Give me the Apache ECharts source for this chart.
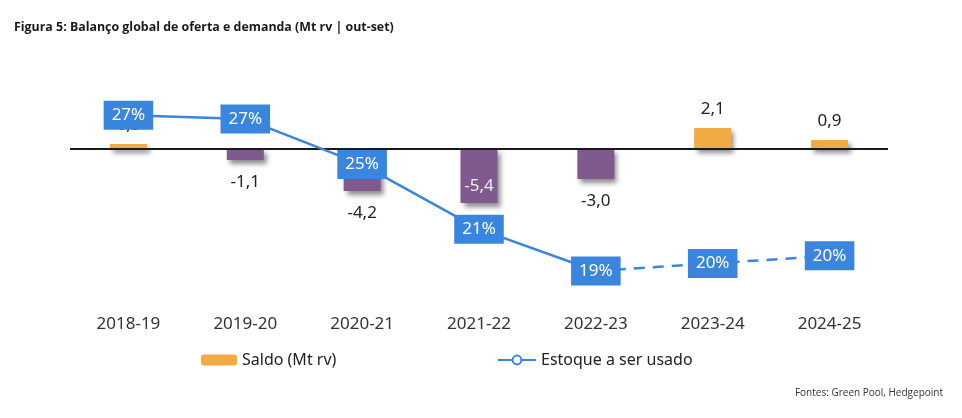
<!DOCTYPE html>
<html>
<head>
<meta charset="utf-8">
<script src="https://cdn.jsdelivr.net/npm/echarts@6/dist/echarts.min.js"></script>
<style>
  html, body { margin: 0; padding: 0; background: #fff; }
  #main { width: 962px; height: 418px; }
</style>
</head>
<body>
<div id="main"></div>
<script>
// dados
var categorias = ['2018-19', '2019-20', '2020-21', '2021-22', '2022-23', '2023-24', '2024-25'];
var saldo = [0.5, -1.1, -4.2, -5.4, -3.0, 2.1, 0.9];
var estoque = [27.4, 27.2, 24.8, 21.4, 19.2, 19.6, 20.0];
var ultimoReal = 4; // a partir daqui a linha é tracejada

var FONTE = 'Noto Sans';
var AZUL = '#3a86df';
var LARANJA = '#f0ab45';
var ROXO = '#7f5a8f';

function virgula(v) {
  return v.toFixed(1).replace('.', ',');
}

var myChart = echarts.init(document.getElementById('main'));

var barras = saldo.map(function (v, i) {
  var item = { value: v, itemStyle: { color: v < 0 ? ROXO : LARANJA } };
  if (i === 3) {
    // o rótulo -5,4 fica dentro da barra
    item.label = { position: 'insideBottom', distance: 8, color: '#eee' };
  } else if (v < 0) {
    item.label = { position: 'bottom', distance: 14 };
  }
  return item;
});

var linhaCheia = estoque.map(function (v, i) {
  return i <= ultimoReal ? v : '-';
});
var linhaTracejada = estoque.map(function (v, i) {
  if (i < ultimoReal) return '-';
  return { value: v, label: { show: i > ultimoReal } };
});

var rotuloLinha = {
  show: true,
  position: 'inside',
  formatter: function (p) { return Math.round(p.value) + '%'; },
  color: '#fff',
  fontFamily: FONTE,
  fontSize: 17,
  backgroundColor: AZUL,
  padding: [7, 8, 5, 8]
};

var option = {
  backgroundColor: '#fff',
  textStyle: { fontFamily: FONTE },
  title: [
    {
      text: 'Figura 5: Balanço global de oferta e demanda (Mt rv | out-set)',
      left: 9, top: 16,
      textStyle: { fontFamily: 'Open Sans', fontSize: 12.4, fontWeight: 'bold', color: '#1a1a1a' }
    },
    {
      text: 'Fontes: Green Pool, Hedgepoint',
      right: 14, top: 383,
      textStyle: { fontFamily: 'Open Sans', fontSize: 10, fontWeight: 'normal', color: '#333' }
    }
  ],
  legend: [
    {
      data: ['Saldo (Mt rv)'],
      left: 196, top: 347,
      itemWidth: 36, itemHeight: 11, itemGap: 4,
      textStyle: { fontFamily: FONTE, fontSize: 16, color: '#222' }
    },
    {
      data: ['Estoque a ser usado'],
      left: 492, top: 347,
      itemWidth: 38, itemHeight: 11, itemGap: 3,
      textStyle: { fontFamily: FONTE, fontSize: 16, color: '#222' }
    }
  ],
  grid: { left: 70, right: 74, top: 49, bottom: 109 },
  xAxis: {
    type: 'category',
    data: categorias,
    axisLine: { show: false, onZero: false },
    axisTick: { show: false },
    axisLabel: { color: '#333', fontSize: 17, margin: 7 },
    splitLine: { show: false }
  },
  yAxis: [
    { type: 'value', min: -16, max: 10, show: false, splitLine: { show: false } },
    { type: 'value', min: 17.2, max: 30.88, show: false, splitLine: { show: false } }
  ],
  series: [
    {
      name: 'Saldo (Mt rv)',
      type: 'bar',
      yAxisIndex: 0,
      barWidth: 37,
      z: 2,
      data: barras,
      itemStyle: {
        color: LARANJA,
        shadowColor: 'rgba(0,0,0,0.45)',
        shadowBlur: 5,
        shadowOffsetX: 3,
        shadowOffsetY: 4
      },
      label: {
        show: true,
        position: 'top',
        distance: 10,
        color: '#222',
        fontSize: 17,
        formatter: function (p) { return virgula(p.value); }
      },
      markLine: {
        silent: true,
        symbol: 'none',
        label: { show: false },
        lineStyle: { color: '#1a1a1a', width: 2, type: 'solid' },
        data: [{ yAxis: 0 }]
      }
    },
    {
      name: 'Estoque a ser usado',
      type: 'line',
      yAxisIndex: 1,
      z: 5,
      data: linhaCheia,
      symbol: 'circle',
      symbolSize: 8,
      itemStyle: { color: '#fff', borderColor: AZUL, borderWidth: 2 },
      lineStyle: { color: AZUL, width: 2.5 },
      label: rotuloLinha
    },
    {
      name: 'Estoque a ser usado',
      type: 'line',
      yAxisIndex: 1,
      z: 5,
      data: linhaTracejada,
      symbol: 'circle',
      symbolSize: 8,
      itemStyle: { color: '#fff', borderColor: AZUL, borderWidth: 2 },
      lineStyle: { color: AZUL, width: 2.5, type: [11, 8] },
      label: rotuloLinha
    }
  ]
};

myChart.setOption(option);
</script>
</body>
</html>
